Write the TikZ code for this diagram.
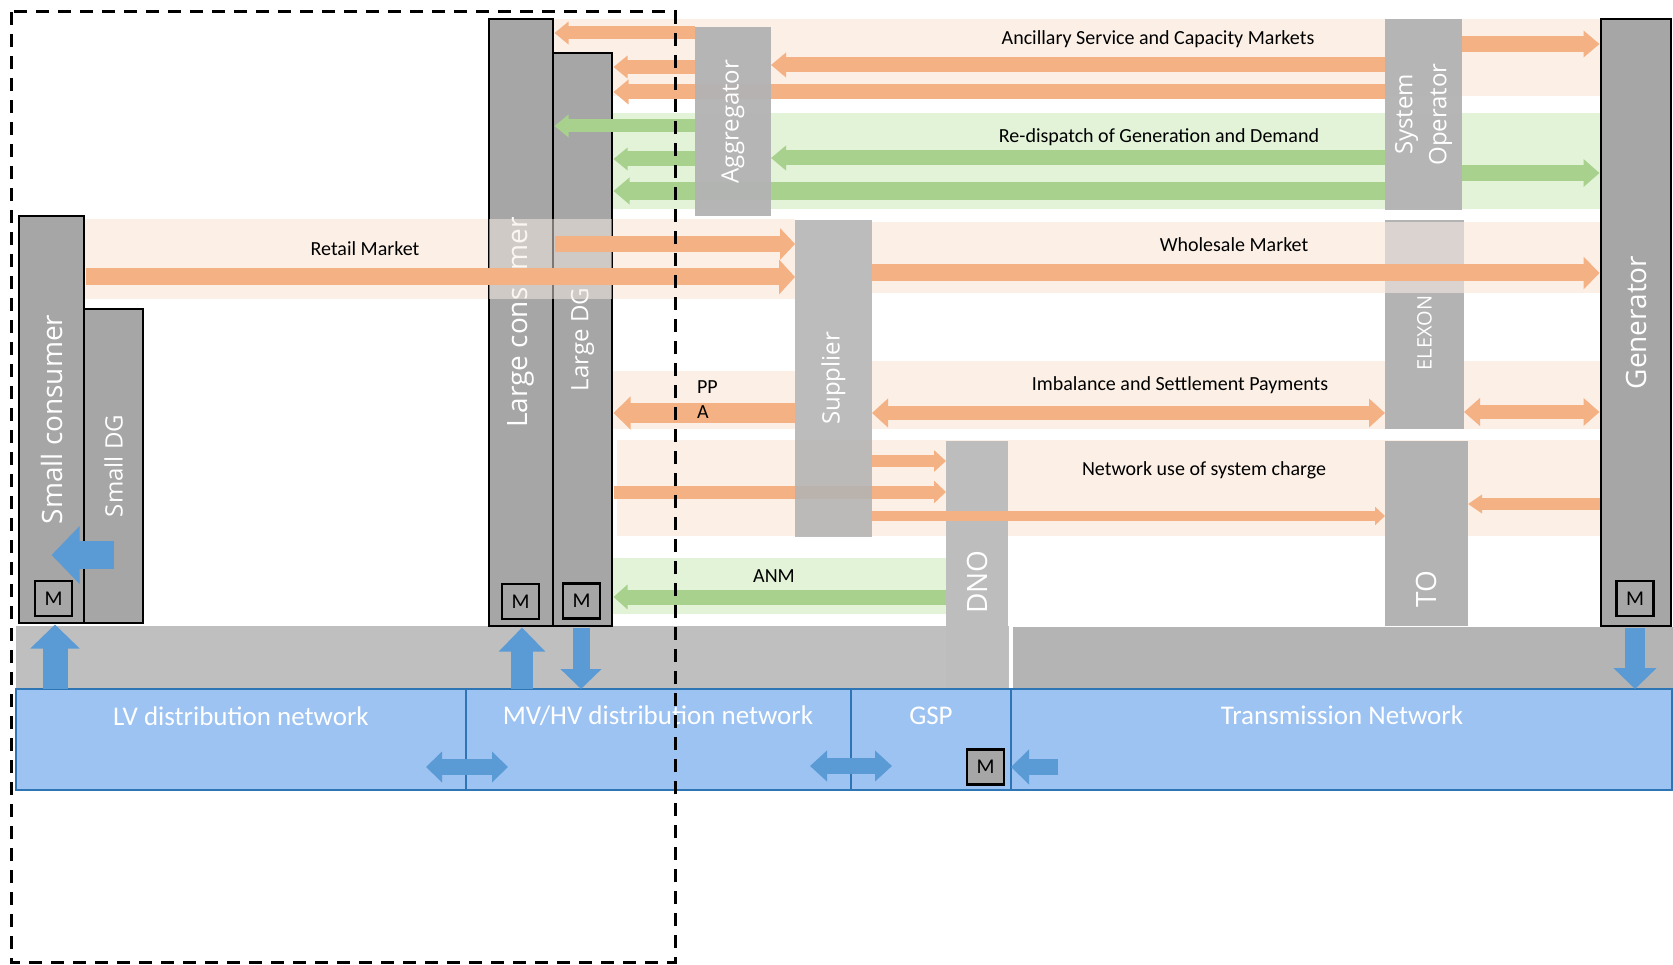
\documentclass[tikz,border=0pt]{standalone}
\usepackage{fontspec}
\setmainfont{Carlito}
\newfontfamily\boxfont{Open Sans}
\usetikzlibrary{arrows.meta}
\pgfdeclarelayer{front}
\pgfsetlayers{main,front}

\definecolor{oarrow}{HTML}{F4B183}
\definecolor{garrow}{HTML}{A9D18E}
\definecolor{barrow}{HTML}{5B9BD5}
\definecolor{oband}{HTML}{FBEFE6}
\definecolor{gband}{HTML}{E2F3D8}
\definecolor{boxgrey}{HTML}{A6A6A6}
\definecolor{softgrey}{HTML}{B3B3B3}
\definecolor{dnogrey}{HTML}{BDBDBD}
\definecolor{lgrey}{HTML}{BFBFBF}
\definecolor{rgrey}{HTML}{B4B4B4}
\definecolor{netblue}{HTML}{9DC3F2}
\definecolor{netline}{HTML}{2E75B6}

% rectangle node given by its corners: name, style, x1, y1, x2, y2
\newcommand\rectnode[6]{\node[#2, minimum width={(#5)-(#3)}, minimum height={(#6)-(#4)}] (#1) at ({((#3)+(#5))/2},{((#4)+(#6))/2}) {};}

\begin{document}
\begin{tikzpicture}[x=1pt, y=-1pt,
  every node/.style={inner sep=0pt, outer sep=0pt},
  heavy/.style={draw=black, line width=2.5pt, fill=boxgrey, outer sep=1.5pt},
  soft/.style={fill=softgrey},
  net/.style={draw=netline, line width=2pt, fill=netblue},
  meter/.style={draw=black, line width=2.2pt, fill=boxgrey, minimum width=37pt, minimum height=35pt, font=\fontsize{21}{24}\selectfont},
  bandtext/.style={font=\fontsize{20}{24}\selectfont},
  boxtext/.style={text=white, rotate=90, font=\boxfont\fontsize{#1}{34}\selectfont},
  nettext/.style={text=white, font=\fontsize{27}{30}\selectfont},
  farrow/.style n args={4}{draw=#1, line width=#2pt, -{Triangle[length=#4pt, width=#3pt]}},
  fdouble/.style n args={4}{draw=#1, line width=#2pt, {Triangle[length=#4pt, width=#3pt]}-{Triangle[length=#4pt, width=#3pt]}},
  groupframe/.style={draw=black, line width=3pt, dash pattern=on 13pt off 9pt},
]
\useasboundingbox (0,0) rectangle (1673,965);

% market bands
\fill[oband] (553,19) rectangle (1600,96);
\fill[gband] (612,113) rectangle (1600,209);
\fill[oband] (84,219) rectangle (795,299);
\fill[oband] (872,222) rectangle (1600,293);
\fill[oband] (613,371) rectangle (795,429);
\fill[oband] (872,361) rectangle (1600,429);
\fill[oband] (617,440) rectangle (1600,536);
\fill[gband] (613,558) rectangle (946,614);

% connection level band
\fill[lgrey] (16,626) rectangle (1009,688);
\fill[rgrey] (1013,627) rectangle (1673,688);

% parties drawn above the flows
\begin{pgfonlayer}{front}
\rectnode{agg}{soft, fill opacity=0.96}{695}{27}{771}{216}
\node[boxtext=24] at (agg.center) {Aggregator};
\rectnode{so}{soft, fill opacity=0.96}{1385}{19}{1462}{210}
\node[boxtext=24, align=center] at (so.center) {System\\Operator};
\rectnode{sup}{soft, fill opacity=0.88}{795}{220}{872}{537}
\node[boxtext=24] at (sup.center) {Supplier};
\end{pgfonlayer}

% network users
\rectnode{sc}{heavy}{19}{216}{84}{623}
\rectnode{sdg}{heavy}{84}{309}{143}{623}
\rectnode{lc}{heavy}{489}{19}{553}{626}
\rectnode{ldg}{heavy}{553}{53}{612}{626}
\rectnode{gen}{heavy}{1601}{19}{1671}{626}
\node[boxtext=28] at (sc.center) {Small consumer};
\node[boxtext=24] at (sdg.center) {Small DG};
\node[boxtext=28] at (lc.center) {Large consumer};
\node[boxtext=24] at (ldg.center) {Large DG};
\node[boxtext=28] at (gen.center) {Generator};
\fill[oband, opacity=0.5] (489,219) rectangle (612,299);

% networks
\rectnode{lv}{net}{16}{689}{466}{790}
\rectnode{mv}{net}{466}{689}{851}{790}
\rectnode{gsp}{net}{851}{689}{1011}{790}
\rectnode{tn}{net}{1011}{689}{1672}{790}
\node[nettext] at (241,716) {LV distribution network};
\node[nettext] at (658,716) {MV/HV distribution network};
\node[nettext] at (931,716) {GSP};
\node[nettext] at (1342,715) {Transmission Network};

% operators
\rectnode{dno}{fill=dnogrey}{946}{441}{1008}{688}
\rectnode{to}{soft}{1385}{441}{1468}{626}
\rectnode{elexon}{soft}{1385}{220}{1464}{429}
\fill[oband, opacity=0.55] (1385,222) rectangle (1464,293);
\node[boxtext=20] at (elexon.center |- 0,333) {ELEXON};
\node[boxtext=28] at (dno.center |- 0,582) {DNO};
\node[boxtext=28] at (to.center |- 0,589) {TO};

% ancillary services and capacity
\draw[farrow={oarrow}{13}{22}{14}] (agg.west |- 0,33) -- (lc.east |- 0,33);
\draw[farrow={oarrow}{14}{22}{14}] (agg.west |- 0,67) -- (ldg.east |- 0,67);
\draw[farrow={oarrow}{15}{24}{15}] (so.west |- 0,65) -- (agg.east |- 0,65);
\draw[farrow={oarrow}{15}{24}{15}] (so.west |- 0,92) -- (ldg.east |- 0,92);
\draw[farrow={oarrow}{16}{26}{16}] (so.east |- 0,44) -- (gen.west |- 0,44);

% re-dispatch
\draw[farrow={garrow}{13}{22}{14}] (agg.west |- 0,126) -- (lc.east |- 0,126);
\draw[farrow={garrow}{15}{22}{14}] (agg.west |- 0,159) -- (ldg.east |- 0,159);
\draw[farrow={garrow}{15}{24}{15}] (so.west |- 0,158) -- (agg.east |- 0,158);
\draw[farrow={garrow}{18}{26}{16}] (so.west |- 0,191) -- (ldg.east |- 0,191);
\draw[farrow={garrow}{16}{27}{16}] (so.east |- 0,173) -- (gen.west |- 0,173);

% retail and wholesale
\draw[farrow={oarrow}{16}{31}{15}] (lc.east |- 0,244) -- (sup.west |- 0,244);
\draw[farrow={oarrow}{17}{34}{16}] (sc.east |- 0,277) -- (sup.west |- 0,277);
\draw[farrow={oarrow}{17}{32}{16}] (sup.east |- 0,273) -- (gen.west |- 0,273);

% imbalance, settlement and PPA
\draw[fdouble={oarrow}{14}{28}{16}] (sup.east |- 0,413) -- (elexon.west |- 0,413);
\draw[fdouble={oarrow}{14}{27}{16}] (elexon.east |- 0,412) -- (gen.west |- 0,412);
\draw[farrow={oarrow}{20}{32}{17}] (sup.west |- 0,413) -- (ldg.east |- 0,413);

% use of system charges
\draw[farrow={oarrow}{12}{21}{12}] (sup.east |- 0,461) -- (dno.west |- 0,461);
\draw[farrow={oarrow}{13}{22}{12}] (ldg.east |- 0,492) -- (dno.west |- 0,492);
\draw[farrow={oarrow}{10}{18}{10}] (sup.east |- 0,516) -- (to.west |- 0,516);
\draw[farrow={oarrow}{12}{18}{14}] (gen.west |- 0,504) -- (to.east |- 0,504);

% active network management
\draw[farrow={garrow}{15}{24}{14}] (dno.west |- 0,597) -- (ldg.east |- 0,597);

% band titles
\node[bandtext] at (1158,39) {Ancillary Service and Capacity Markets};
\node[bandtext] at (1159,137) {Re-dispatch of Generation and Demand};
\node[bandtext] at (365,249) {Retail Market};
\node[bandtext] at (1234,245) {Wholesale Market};
\node[bandtext] at (1180,385) {Imbalance and Settlement Payments};
\node[bandtext] at (1204,470) {Network use of system charge};
\node[bandtext] at (774,576) {ANM};
\node[bandtext, anchor=west] at (697,387) {PP};
\node[bandtext, anchor=west] at (697,412) {A};

% meters
\node[meter] (msc) at (53.5,598.5) {M};
\node[meter] (mlc) at (520.5,601.5) {M};
\node[meter] (mldg) at (581.5,601) {M};
\node[meter] (mgen) at (1635,598.5) {M};
\node[meter] (mgsp) at (985.5,767) {M};

% power flows
\draw[farrow={barrow}{28}{56}{28}] (sdg.center |- 0,555) -- (sc.center |- 0,555);
\draw[farrow={barrow}{25}{48}{24}] (lv.north -| 55,0) -- (sc.south -| 55,0);
\draw[farrow={barrow}{22}{45}{24}] (mv.north -| 522,0) -- (lc.south -| 522,0);
\draw[farrow={barrow}{17}{40}{20}] (ldg.south -| 581,0) -- (mv.north -| 581,0);
\draw[farrow={barrow}{20}{42}{21}] (gen.south -| 1635,0) -- (tn.north -| 1635,0);
\draw[fdouble={barrow}{16}{30}{16}] (lv.east |- 0,767) ++(-40,0) -- ++(82,0);
\draw[fdouble={barrow}{16}{30}{17}] (mv.east |- 0,766) ++(-41,0) -- ++(82,0);
\draw[farrow={barrow}{16}{34}{18}] (tn.west |- 0,767) ++(47,0) -- (tn.west |- 0,767);

% distribution-level group
\begin{pgfonlayer}{front}
\draw[groupframe] (11,12) rectangle (675,962);
\end{pgfonlayer}
\end{tikzpicture}
\end{document}
